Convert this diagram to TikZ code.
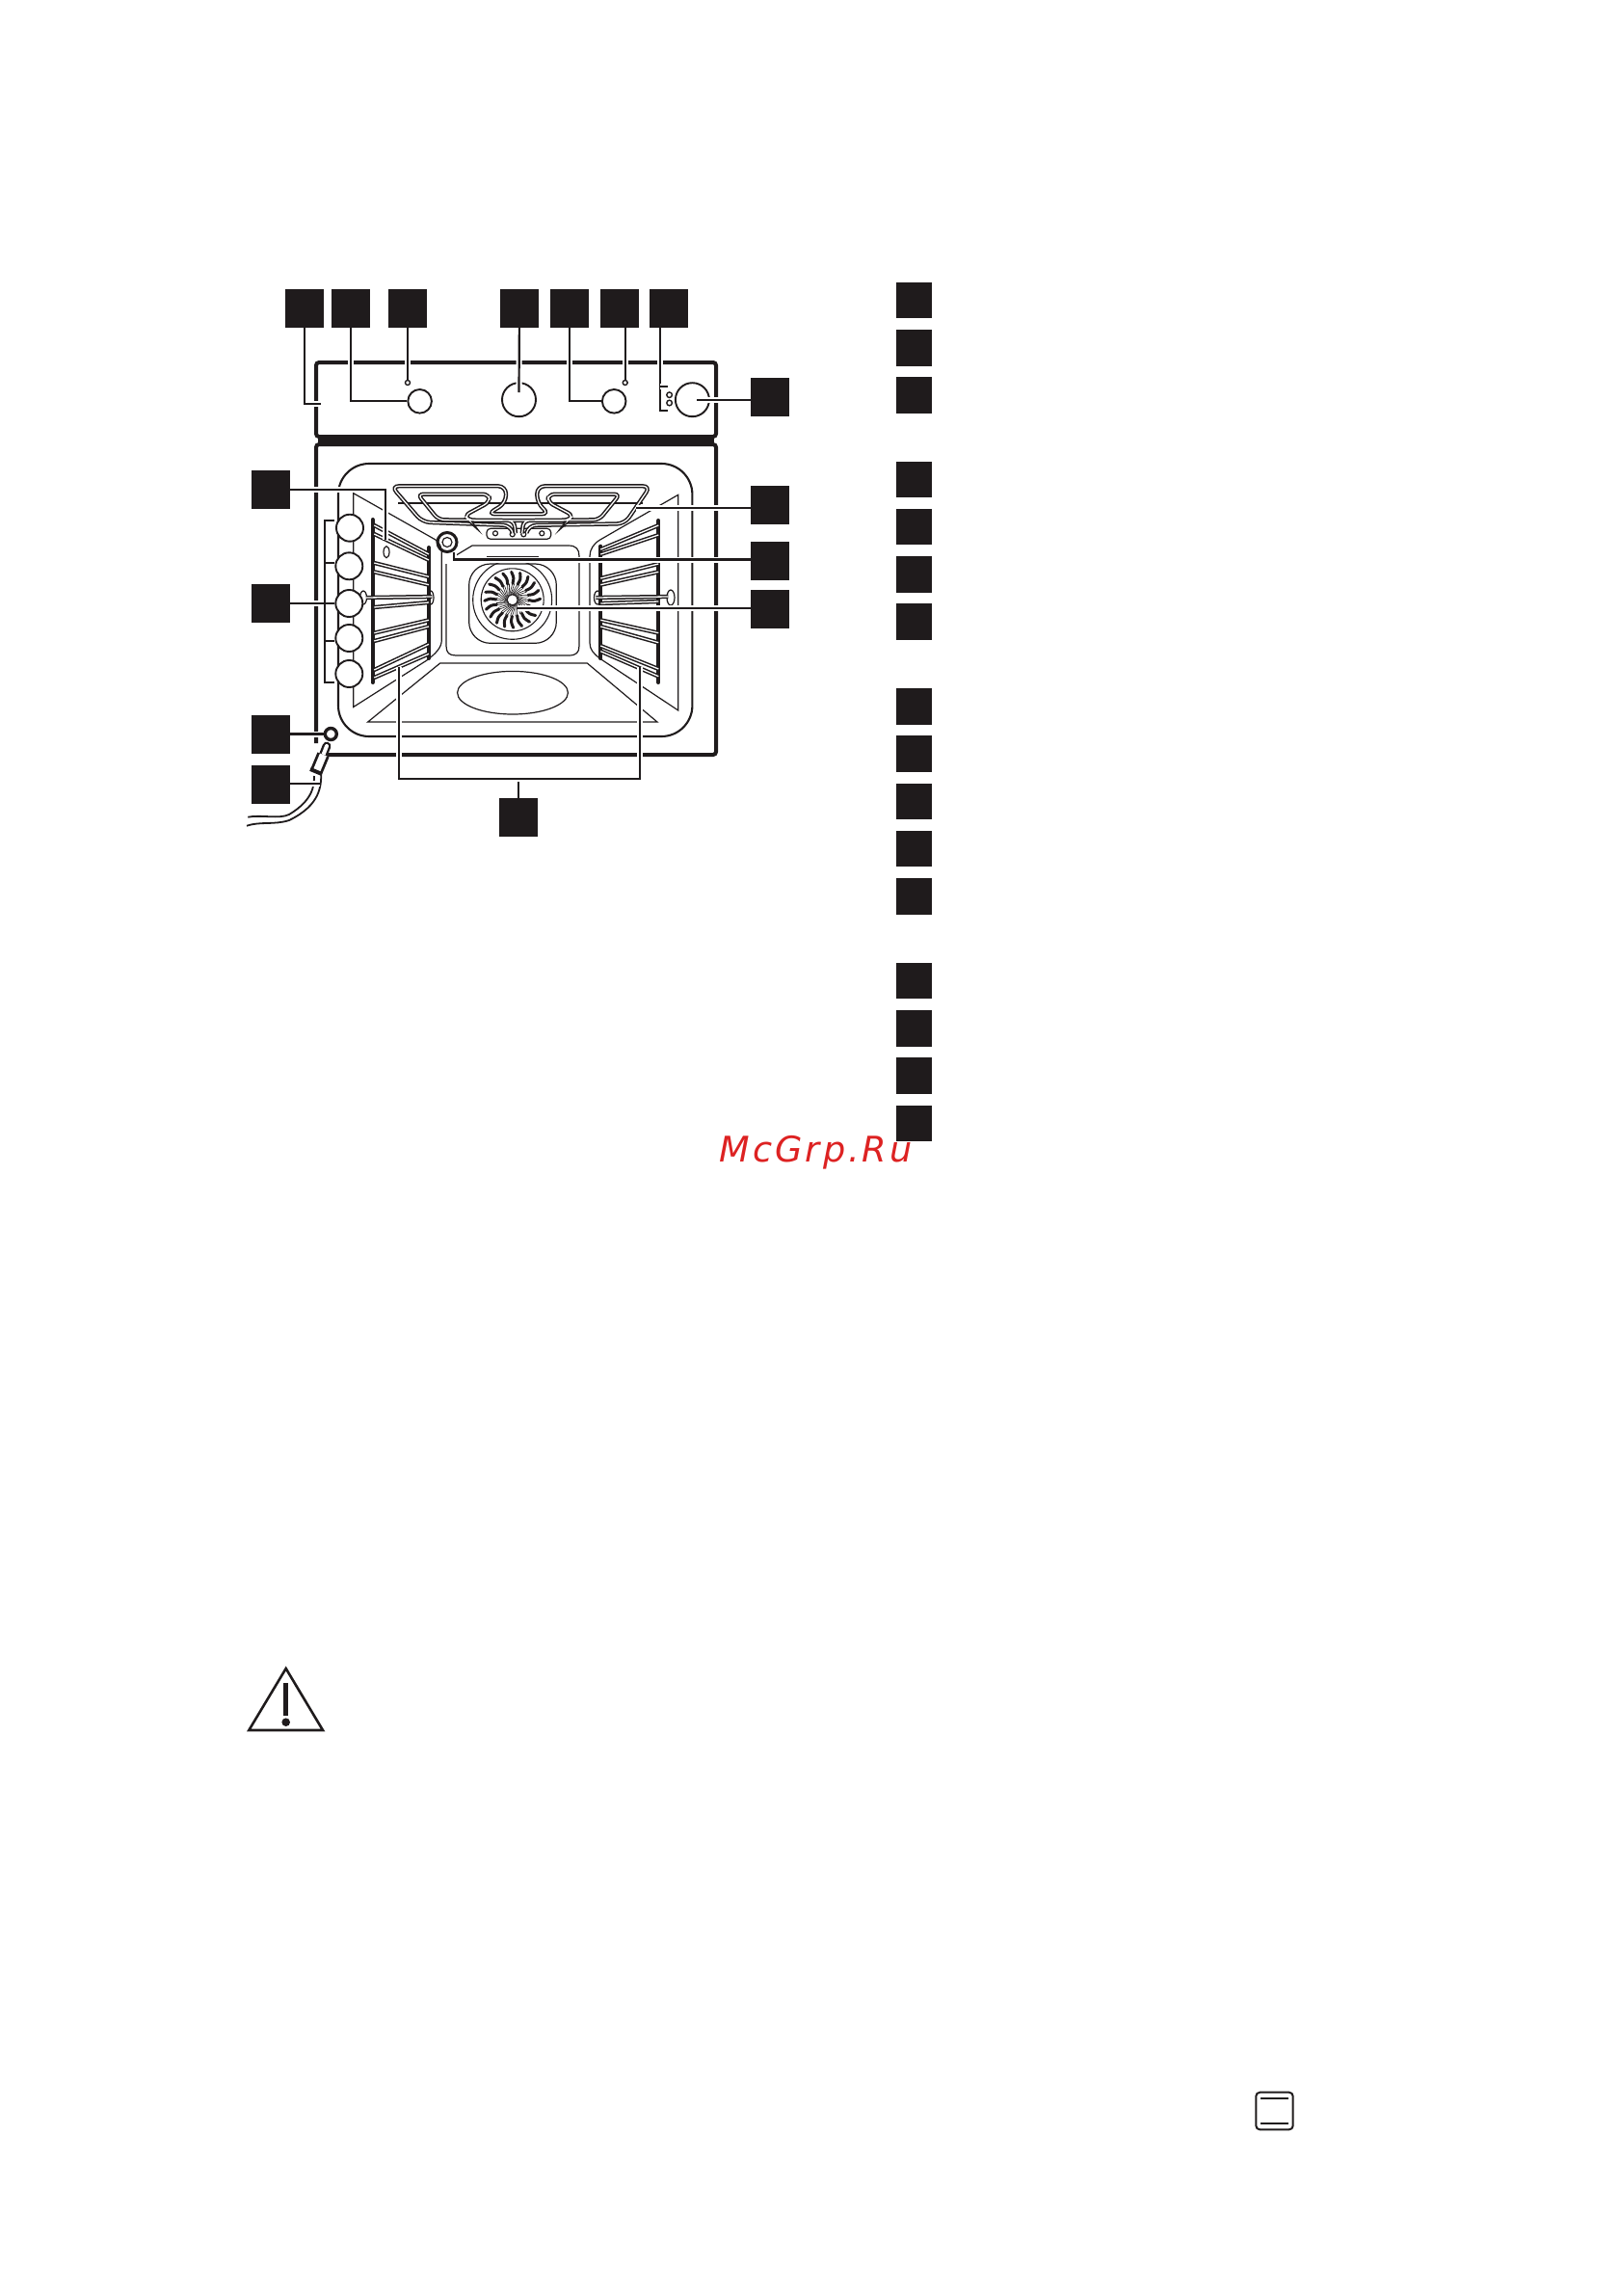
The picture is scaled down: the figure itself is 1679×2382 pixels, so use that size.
\documentclass[tikz,border=0pt]{standalone}
\usepackage{fontspec}
\newfontfamily\markfont[LetterSpace=8.2]{DejaVu Sans}
\definecolor{inkdark}{HTML}{1F1B1C}
\definecolor{markred}{HTML}{DD2222}

\begin{document}
\begin{tikzpicture}[
                    x=1pt,
                    y=-1pt,
                    color=inkdark,
                    node distance=49.2pt,
                    keybox/.style={rectangle, fill=inkdark, inner sep=0pt, minimum size=40pt},
                    listbox/.style={rectangle, fill=inkdark, inner sep=0pt, minimum width=37pt, minimum height=37.5pt},
                    knob/.style={circle, draw, line width=1.9pt, fill=white, inner sep=0pt, minimum size=#1},
                    frameline/.style={line width=4pt},
                    wall/.style={line width=1.2pt},
                    tube/.style={line width=1.5pt, double=white, double distance=1.3pt},
                    railbar/.style={line width=4pt, line cap=round},
                    leader/.style={line width=2.2pt, preaction={draw=white, line width=6pt}},
                    tickline/.style={line width=2.2pt}
                ]
                \useasboundingbox (0,0) rectangle (1679,2382);

                \draw[frameline, rounded corners=3pt] (328,376) rectangle (743,453);
                \fill (330,452) rectangle (741,463);
                \draw[frameline, rounded corners=3pt] (328,771) -- (328,461) -- (743,461) -- (743,783) -- (340,783);

                \draw[line width=2.1pt, rounded corners=32pt] (351,481) rectangle (718.4,764);
                \draw[wall] (366.7,511.7) -- (452,560) .. controls (457,564) and (458.3,568) .. (458.3,575)
                    -- (458.3,664) .. controls (458.3,672) and (452,678) .. (443,685) -- (366.7,733.5) -- cycle;
                \draw[wall] (703.8,513.3) -- (622.7,560) .. controls (616,564) and (612,570) .. (612,577)
                    -- (612,667) .. controls (612,674) and (616,678) .. (622.7,683.3) -- (703.8,737) -- cycle;
                \draw[wall] (471.7,577) -- (490,566) -- (590,566) .. controls (598,566) and (601,570) .. (601,577)
                    -- (601,670) .. controls (601,677) and (598,680) .. (590,680) -- (473,680)
                    .. controls (466,680) and (463,677) .. (463,670) -- (463,585);
                \draw[line width=.9pt] (505,577.5) -- (559,577.5);
                \draw[wall, rounded corners=22pt] (486.7,585) rectangle (577.3,667.3);
                \draw[wall] (381.7,749) -- (456.7,688) -- (609.3,688) -- (682,749) -- cycle;
                \draw[wall] (532,718.7) ellipse (57.4 and 22.3);

                \node (fanring) [circle, draw, line width=1.1pt, inner sep=0pt, minimum size=82pt] at (531.7,622.3) {};
                \node (fanrim) [circle, draw, line width=1.1pt, inner sep=0pt, minimum size=65pt] at (531.7,622.3) {};
                \begin{scope}[shift={(531.7,622.3)}]
                    \foreach \a in {0,18,...,342} {
                        \draw[line width=.6pt] (\a-40:5) .. controls (\a-15:9) and (\a-4:13) .. (\a+1:18);
                        \draw[line width=.6pt] (\a-30:5) .. controls (\a-8:8) and (\a+4:12) .. (\a+7:17);
                        \draw[line width=3pt, line cap=round] (\a+1:17) .. controls (\a+4:23) .. (\a-2:29);
                    }
                \end{scope}
                \node (hub) [knob=11pt, line width=1pt] at (531.7,622.3) {};

                \draw[line width=2pt] (413,521.7) -- (667,521.7);
                \draw[wall, rounded corners=4pt] (505,548.3) rectangle (571.7,559.3);
                \draw[wall] (514,553.3) circle (2.5) (531.7,554.3) circle (2.5) (543.3,554.3) circle (2.5) (562.3,553.3) circle (2.5);
                \draw[tube, rounded corners=8pt] (531.7,551.7) -- (530,545) -- (438.3,541.7) -- (406,504.3) -- (525,504.3)
                    -- (525,521.7) -- (506,533.3) -- (570,533.3) -- (557.3,521.7) -- (557.3,504.3) -- (675,504.3)
                    -- (648.3,543.3) -- (548.3,545) -- (546.7,551.7);
                \draw[tube, rounded corners=6pt] (535,553.3) -- (533.3,540) -- (455,539.3) -- (433.3,512.7) -- (507.3,512.7)
                    -- (508.3,520.7) -- (481.7,535) -- (487.3,540) -- (589.3,540) -- (595,535) -- (568.3,520.7)
                    -- (569.3,512.7) -- (643.3,512.7) -- (621.7,539.3) -- (543.3,540) -- (541.7,553.3);

                \node (lamp) [circle, draw, line width=3pt, inner sep=0pt, minimum size=20pt] at (464,562.5) {};
                \node (lampcore) [circle, draw, line width=1.2pt, inner sep=0pt, minimum size=10pt] at (464,562.5) {};

                \draw[railbar] (386.7,539) -- (386.7,708);
                \draw[railbar] (445,568) -- (445,683);
                \draw[railbar] (623.3,566.7) -- (623.3,683);
                \draw[railbar] (683.3,540) -- (683.3,708);

                \draw[wall] (377,620) ellipse (3.5 and 7);
                \draw[wall] (447,620) ellipse (3 and 7);
                \draw[wall] (620,620) ellipse (3.5 and 7);
                \draw[wall] (696,620) ellipse (4 and 8);
                \draw[wall] (401,572.7) ellipse (3 and 6);

                \draw[tube] (388.3,545) -- (445,575);
                \draw[tube] (388.3,554) -- (445,581);
                \draw[tube] (388.3,584) -- (445,598.3);
                \draw[tube] (388.3,593.3) -- (445,606.7);
                \draw[tube] (380,620) -- (448.3,619);
                \draw[tube] (388.3,630) -- (445,625);
                \draw[tube] (388.3,656.7) -- (445,643.3);
                \draw[tube] (388.3,665) -- (445,650);
                \draw[tube] (388.3,695) -- (445,668.3);
                \draw[tube] (388.3,703) -- (445,678.3);

                \draw[tube] (623.3,570) -- (683.3,545);
                \draw[tube] (623.3,575) -- (683.3,555);
                \draw[tube] (623.3,600) -- (683.3,585);
                \draw[tube] (623.3,606.7) -- (683.3,593.3);
                \draw[tube] (618.3,620) -- (693.3,619);
                \draw[tube] (623.3,626) -- (683.3,624);
                \draw[tube] (623.3,643.3) -- (683.3,656.7);
                \draw[tube] (623.3,650) -- (683.3,666.7);
                \draw[tube] (623.3,670) -- (683.3,694);
                \draw[tube] (623.3,675.7) -- (683.3,701.7);

                \node (S1) [knob=28pt] at (363,547.7) {};
                \node (S2) [knob=28pt] at (362.3,587.3) {};
                \node (S3) [knob=28pt] at (362.3,626) {};
                \node (S4) [knob=28pt] at (362.3,662) {};
                \node (S5) [knob=28pt] at (362.3,699) {};

                \node (knobA) [knob=24.6pt] at (435.6,416.3) {};
                \node (knobB) [knob=35pt] at (538.5,414.7) {};
                \node (knobC) [knob=24.6pt] at (637.2,416.3) {};
                \node (knobD) [knob=35pt] at (718.4,414.7) {};

                \node (sock) [circle, draw, line width=3.4pt, inner sep=0pt, minimum size=12pt] at (343.3,761.5) {};

                \draw[line width=1.8pt] (326,805) .. controls (326,815) and (325,830) .. (300,845) .. controls (290,850) and (270,845) .. (257.3,847.7);
                \draw[line width=1.8pt] (333.3,803.3) .. controls (333,815) and (333,835) .. (300,851) .. controls (285,856) and (270,852) .. (256,856.7);
                \draw[line width=2.4pt, double=white, double distance=4pt, line cap=round] (339,774) -- (335.5,783);
                \draw[line width=2.8pt, double=white, double distance=7.5pt] (335.5,783) -- (328,801);
                \draw[line width=4pt] (322,798) -- (334,803);

                \node (T1) [keybox] at (316,320) {};
                \node (T2) [keybox] at (364,320) {};
                \node (T3) [keybox] at (423,320) {};
                \node (T4) [keybox] at (539,320) {};
                \node (T5) [keybox] at (591,320) {};
                \node (T6) [keybox] at (643,320) {};
                \node (T7) [keybox] at (694,320) {};
                \node (R1) [keybox] at (799,412) {};
                \node (R2) [keybox] at (799,524) {};
                \node (R3) [keybox] at (799,582) {};
                \node (R4) [keybox] at (799,632) {};
                \node (L1) [keybox] at (281,508) {};
                \node (L2) [keybox] at (281,626) {};
                \node (L3) [keybox] at (281,761.5) {};
                \node (L4) [keybox] at (281,814) {};
                \node (B) [keybox] at (538,848) {};

                \node (N1) [listbox] at (948.5,311.6) {};
                \node (N2) [listbox, below of=N1] {};
                \node (N3) [listbox, below of=N2] {};
                \node (N4) [listbox] at (948.5,497.5) {};
                \node (N5) [listbox, below of=N4] {};
                \node (N6) [listbox, below of=N5] {};
                \node (N7) [listbox, below of=N6] {};
                \node (N8) [listbox] at (948.5,733) {};
                \node (N9) [listbox, below of=N8] {};
                \node (N10) [listbox, below of=N9] {};
                \node (N11) [listbox, below of=N10] {};
                \node (N12) [listbox, below of=N11] {};
                \node (N13) [listbox] at (948.5,1017.7) {};
                \node (N14) [listbox, below of=N13] {};
                \node (N15) [listbox, below of=N14] {};
                \node (N16) [listbox, below of=N15] {};

                \coordinate (edgeA) at (332.6,419);
                \coordinate (dotA) at (423,394);
                \coordinate (tipB) at (538.5,407);
                \coordinate (dotB) at (648.7,394);
                \coordinate (ledTop) at (692.7,401);
                \coordinate (ledBot) at (692.7,425.7);
                \coordinate (ledRun) at (685,425.7);
                \coordinate (tipD) at (723,415);
                \coordinate (hookEnd) at (400,560);
                \coordinate (grillEnd) at (660,526.7);
                \coordinate (lampEnd) at (470.7,573.3);
                \coordinate (lampRun) at (470.7,580.5);
                \coordinate (fanEnd) at (536.7,631);
                \coordinate (rackA) at (414,691.7);
                \coordinate (rackB) at (664,691.7);
                \coordinate (fork) at (538,807.7);
                \coordinate (cableEnd) at (331.7,813);

                \draw[leader] (T1) |- (edgeA);
                \draw[leader] (T2) |- (knobA);
                \draw[leader] (T3) -- (dotA);
                \draw[leader] (T4) -- (tipB);
                \draw[leader] (T5) |- (knobC);
                \draw[leader] (T6.south -| dotB) -- (dotB);
                \draw[leader] (T7.south -| ledRun) -- (ledRun) -- (ledBot);
                \draw[leader] (ledRun |- ledTop) -- (ledTop);
                \draw[leader] (R1.west |- tipD) -- (tipD);
                \draw[leader] (R2.west |- grillEnd) -- (grillEnd);
                \draw[leader] (R3.west |- lampRun) -- (lampRun) -- (lampEnd);
                \draw[leader] (R4.west |- fanEnd) -- (fanEnd);
                \draw[leader] (L1.east |- hookEnd |- 0,508.3) -| (hookEnd);
                \draw[leader] (L2) -- (S3);
                \draw[leader] (L3) -- (sock);
                \draw[leader] (L4.east |- cableEnd) -- (cableEnd);
                \draw[leader] (B) -- (fork);
                \draw[leader] (rackA) |- (fork) -| (rackB);

                \draw[tickline] (346.7,540) -- (336.7,540) -- (336.7,708.3) -- (346.7,708.3);
                \draw[tickline] (336.7,584) -- (346.7,584);
                \draw[tickline] (336.7,665) -- (346.7,665);

                \draw[line width=1.4pt] (423,397) circle (2.5);
                \draw[line width=1.4pt] (648.7,397) circle (2.5);
                \draw[line width=1.4pt] (694.6,409.7) circle (2.8);
                \draw[line width=1.4pt] (694.6,418) circle (2.8);

                \draw[line width=2.6pt, line join=miter] (296.7,1731) -- (335,1795) -- (258.3,1795) -- cycle;
                \draw[line width=5.3pt] (296.7,1746) -- (296.7,1780);
                \fill (296.7,1786.7) circle (4.3);

                \draw[line width=2pt, rounded corners=4pt] (1303.3,2170.7) rectangle (1341.7,2209.3);
                \draw[line width=2.2pt] (1308.3,2177.3) -- (1336.7,2177.3);
                \draw[line width=2.2pt] (1308.3,2202.7) -- (1336.7,2202.7);

                \node (brand) [anchor=base west, inner sep=0pt, text=markred, font=\markfont\itshape\fontsize{36.6}{40}\selectfont] at (746.7,1205) {McGrp.Ru};
            \end{tikzpicture}
\end{document}
